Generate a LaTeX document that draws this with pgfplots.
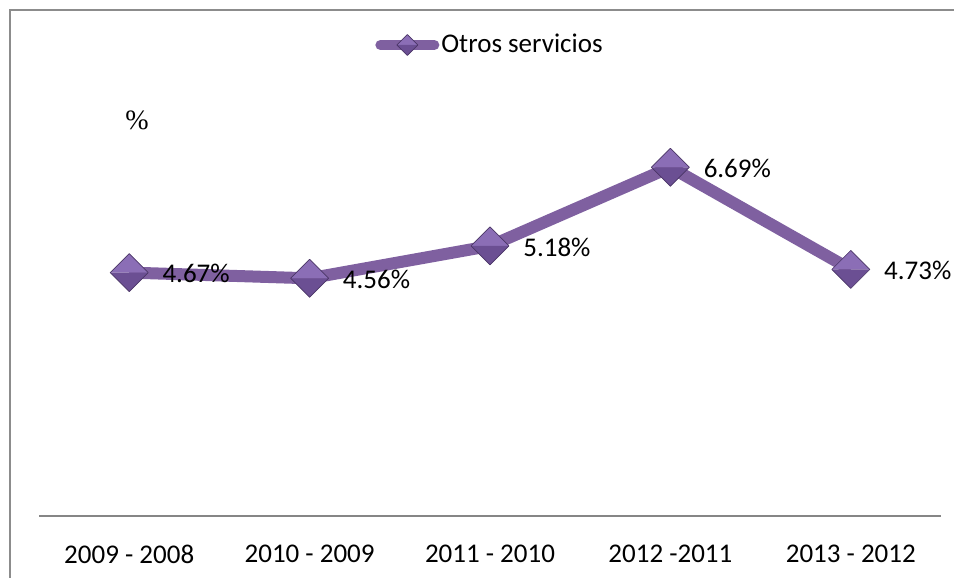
\documentclass[border=0pt]{standalone}
\usepackage{pgfplots}
\pgfplotsset{compat=1.18}
\usepackage{fontspec}
\setmainfont{Carlito}
\newfontfamily\serifpct{Liberation Serif}
\definecolor{oline}{HTML}{7F60A0}
\definecolor{mtop}{HTML}{8B6EB6}
\definecolor{mbot}{HTML}{6B4F93}
\definecolor{omarkd}{HTML}{4A3566}
\definecolor{frame}{HTML}{8C8C8C}
\definecolor{axisgray}{HTML}{868686}
\pgfdeclareplotmark{shdiamond}{%
  \pgfpathmoveto{\pgfqpoint{0pt}{\pgfplotmarksize}}%
  \pgfpathlineto{\pgfqpoint{\pgfplotmarksize}{0pt}}%
  \pgfpathlineto{\pgfqpoint{-\pgfplotmarksize}{0pt}}%
  \pgfpathclose
  \pgfsetfillcolor{mtop}\pgfusepathqfill
  \pgfpathmoveto{\pgfqpoint{0pt}{-\pgfplotmarksize}}%
  \pgfpathlineto{\pgfqpoint{\pgfplotmarksize}{0pt}}%
  \pgfpathlineto{\pgfqpoint{-\pgfplotmarksize}{0pt}}%
  \pgfpathclose
  \pgfsetfillcolor{mbot}\pgfusepathqfill
  \pgfpathmoveto{\pgfqpoint{0pt}{\pgfplotmarksize}}%
  \pgfpathlineto{\pgfqpoint{\pgfplotmarksize}{0pt}}%
  \pgfpathlineto{\pgfqpoint{0pt}{-\pgfplotmarksize}}%
  \pgfpathlineto{\pgfqpoint{-\pgfplotmarksize}{0pt}}%
  \pgfpathclose
  \pgfsetstrokecolor{omarkd}\pgfsetlinewidth{0.7pt}\pgfusepathqstroke
}
\begin{document}
\fontsize{27pt}{32pt}\selectfont
\begin{tikzpicture}
\useasboundingbox (0pt,0pt) rectangle (954pt,578pt);
\draw[frame, line width=1.5pt] (10pt,-20pt) rectangle (1000pt,568pt);
\begin{axis}[
  at={(39pt,62pt)}, anchor=south west,
  scale only axis, width=902pt, height=417pt,
  xmin=-0.5, xmax=4.5, ymin=0, ymax=8,
  axis x line=bottom, axis y line=none,
  x axis line style={axisgray, line width=2pt, -},
  xtick={0,1,2,3,4},
  xticklabels={2009 - 2008, 2010 - 2009, 2011 - 2010, 2012 -2011, 2013 - 2012},
  major tick length=0pt,
  xticklabel style={font=\fontsize{27pt}{32pt}\selectfont, yshift=-20pt},
  ytick=\empty,
  clip=false,
  legend style={at={(0.5,1.1295)}, anchor=center, draw=none, fill=none,
    font=\fontsize{27pt}{32pt}\selectfont, inner sep=0pt},
  legend cell align=left,
  legend image code/.code={
    \draw[line width=10pt, line cap=round, oline] (0pt,0pt) -- (54pt,0pt);
    \begin{scope}[shift={(27pt,0pt)}]
      \pgfsetplotmarksize{10.5pt}\pgfuseplotmark{shdiamond}
    \end{scope}
  },
]
\addplot[oline, line width=12pt, line join=round,
  mark=shdiamond, mark size=19pt,
  point meta=explicit symbolic,
  nodes near coords={\pgfplotspointmeta},
  every node near coord/.style={anchor=west, xshift=24pt, yshift=-1pt, text=black,
    font=\fontsize{27pt}{32pt}\selectfont},
] coordinates {
  (0,4.67) [4.67\%]
  (1,4.56) [4.56\%]
  (2,5.18) [5.18\%]
  (3,6.69) [6.69\%]
  (4,4.73) [4.73\%]
};
\addlegendentry{Otros servicios}
\node[font=\serifpct\fontsize{28pt}{32pt}\selectfont, text=black] at (rel axis cs:0.1086,0.9496) {\%};
\end{axis}
\end{tikzpicture}
\end{document}
